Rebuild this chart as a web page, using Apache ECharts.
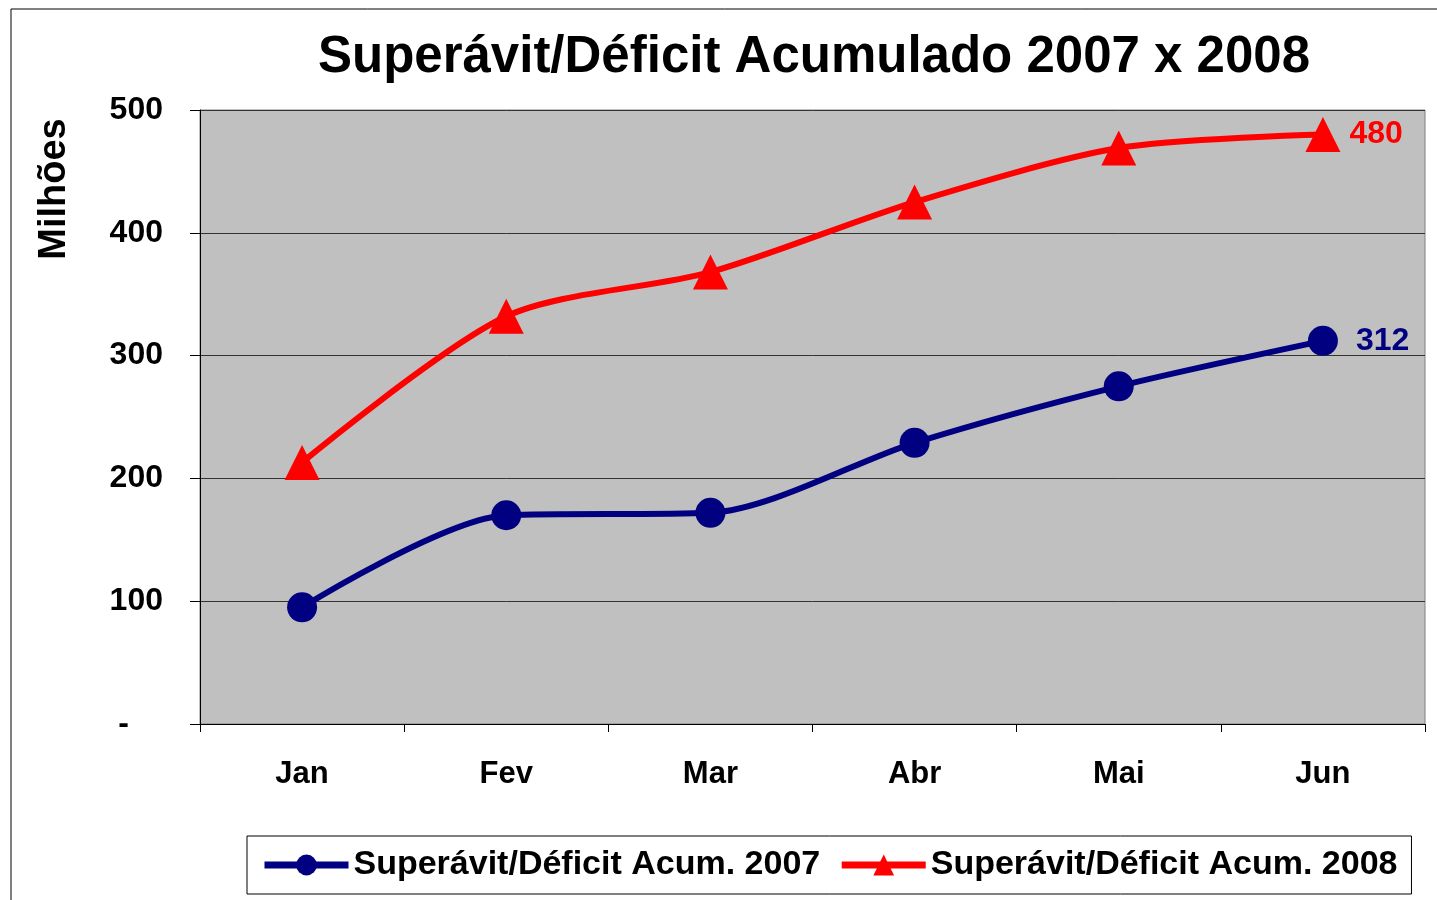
<!DOCTYPE html>
<html>
<head>
<meta charset="utf-8">
<script src="https://cdn.jsdelivr.net/npm/echarts@6/dist/echarts.min.js"></script>
<style>
  html, body { margin: 0; padding: 0; background: #fff; }
  #root { width: 1437px; height: 900px; }
</style>
</head>
<body>
<div id="root"></div>
<script>
// data
var months = ['Jan', 'Fev', 'Mar', 'Abr', 'Mai', 'Jun']
var acum2007 = [95, 170, 172, 229, 275, 312]
var acum2008 = [213, 332, 368, 425, 469, 480]
var name2007 = 'Superávit/Déficit Acum. 2007'
var name2008 = 'Superávit/Déficit Acum. 2008'

var font = 'Arial, "Liberation Sans", sans-serif'

var chart = echarts.init(document.getElementById('root'))

// label only the last point of each series
var lastLabel = (color, distance) => ({
  show: true,
  position: 'right',
  distance,
  color,
  fontFamily: font,
  fontWeight: 'bold',
  fontSize: 32,
  formatter: p => p.dataIndex === months.length - 1 ? p.value : ''
})

var option = {
  backgroundColor: '#fff',
  animation: false,
  title: {
    text: 'Superávit/Déficit Acumulado 2007 x 2008',
    left: 809,
    top: 27,
    textAlign: 'center',
    textStyle: { fontFamily: font, fontWeight: 'bold', fontSize: 51, color: '#000' }
  },
  graphic: [
    {
      type: 'rect',
      shape: { x: 11, y: 9, width: 1440, height: 900 },
      style: { fill: 'none', stroke: '#000', lineWidth: 1 },
      silent: true,
      z: -1
    },
    {
      // y axis title, rotated
      type: 'text',
      x: 55, y: 189,
      rotation: Math.PI / 2,
      style: {
        text: 'Milhões', fill: '#000',
        font: 'bold 38px Arial, "Liberation Sans", sans-serif',
        align: 'center', verticalAlign: 'middle'
      }
    }
  ],
  grid: {
    left: 200, top: 110, width: 1225, height: 614,
    show: true, backgroundColor: '#C0C0C0', borderColor: '#808080', borderWidth: 1
  },
  legend: {
    left: 247, top: 836,
    padding: [12, 14, 12, 14],
    borderColor: '#000', borderWidth: 1,
    itemWidth: 84, itemHeight: 26, itemGap: 18,
    lineStyle: { width: 7 },
    textStyle: { fontFamily: font, fontWeight: 'bold', fontSize: 34, color: '#000' },
    data: [name2007, name2008]
  },
  xAxis: {
    type: 'category',
    data: months,
    boundaryGap: true,
    axisLine: { lineStyle: { color: '#000', width: 1 } },
    axisTick: { show: true, length: 8, lineStyle: { color: '#000' } },
    axisLabel: { margin: 35, fontFamily: font, fontWeight: 'bold', fontSize: 31, color: '#000' },
    splitLine: { show: false }
  },
  yAxis: {
    type: 'value',
    min: 0, max: 500, interval: 100,
    axisLine: { show: true, lineStyle: { color: '#000' } },
    axisTick: { show: true, length: 10, lineStyle: { color: '#000' } },
    axisLabel: {
      margin: 37, fontFamily: font, fontWeight: 'bold', fontSize: 32, color: '#000',
      formatter: v => v === 0 ? '{dash|-}' : v,
      rich: { dash: { fontFamily: font, fontWeight: 'bold', fontSize: 32, color: '#000', padding: [0, 34, 0, 0] } }
    },
    splitLine: { show: true, lineStyle: { color: '#333', width: 1 } }
  },
  series: [
    {
      name: name2007,
      type: 'line',
      data: acum2007,
      smooth: 0.28,
      symbol: 'circle',
      symbolSize: 30,
      itemStyle: { color: '#000080' },
      lineStyle: { color: '#000080', width: 6 },
      label: lastLabel('#000080', 18)
    },
    {
      name: name2008,
      type: 'line',
      data: acum2008,
      smooth: 0.28,
      symbol: 'triangle',
      symbolSize: 35,
      itemStyle: { color: '#FF0000' },
      lineStyle: { color: '#FF0000', width: 6 },
      label: lastLabel('#FF0000', 9)
    }
  ]
}

chart.setOption(option)
</script>
</body>
</html>
